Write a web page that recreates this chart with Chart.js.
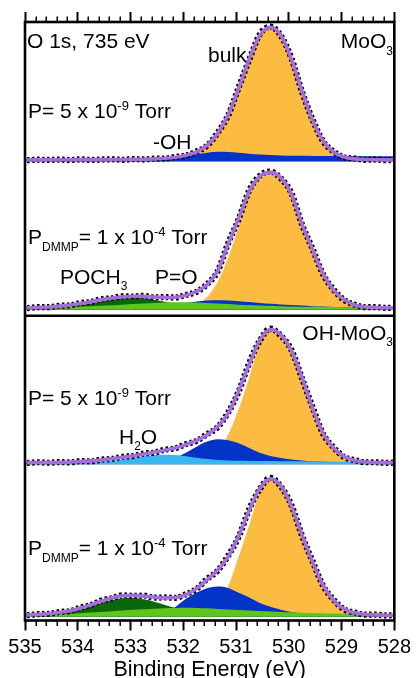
<!DOCTYPE html>
<html>
<head>
<meta charset="utf-8">
<script src="https://cdn.jsdelivr.net/npm/chart.js@4.4.1/dist/chart.umd.min.js"></script>
<style>
html,body{margin:0;padding:0;background:#fff;}
#wrap{width:416px;height:678px;position:relative;}
canvas{display:block;}
</style>
</head>
<body>
<div id="wrap"><canvas id="c" width="416" height="678"></canvas></div>
<script>
// ---------- DATA ----------
// Binding energies (eV) of the sampled points
const energies = [535.15, 534.95, 534.75, 534.55, 534.35, 534.15, 533.95, 533.75, 533.55, 533.35,
                  533.15, 532.95, 532.75, 532.55, 532.35, 532.15, 531.95, 531.75, 531.55, 531.35,
                  531.15, 530.95, 530.75, 530.55, 530.35, 530.15, 529.95, 529.75, 529.55, 529.35,
                  529.15, 528.95, 528.75, 528.55, 528.35, 528.15, 527.95];

const majorTicks = [535, 534, 533, 532, 531, 530, 529, 528];
const tickLabels = ['535', '534', '533', '532', '531', '530', '529', '528'];

// Panel 1: MoO3, P = 5e-9 Torr
const p1Envelope = [0, 0, 0, 0.001, 0.001, 0.001, 0.002, 0.002, 0.002, 0.003,
                    0.003, 0.004, 0.005, 0.008, 0.012, 0.02, 0.035, 0.06, 0.11, 0.2,
                    0.34, 0.54, 0.76, 0.94, 1.0, 0.94, 0.76, 0.52, 0.3, 0.145,
                    0.06, 0.022, 0.008, 0.003, 0.001, 0, 0];
const p1Data = [0.003, -0.002, 0.002, 0, 0.003, -0.001, 0.004, 0, 0.003, 0.005,
                0.001, 0.006, 0.004, 0.01, 0.011, 0.023, 0.033, 0.064, 0.107, 0.205,
                0.335, 0.547, 0.755, 0.947, 1.005, 0.936, 0.766, 0.515, 0.305, 0.141,
                0.063, 0.019, 0.011, 0.001, 0.003, -0.002, 0.002];
const p1Bulk = [0, 0, 0, 0, 0, 0, 0, 0, 0, 0,
                0, 0, 0, 0, 0.004, 0.01, 0.025, 0.05, 0.1, 0.19,
                0.33, 0.53, 0.75, 0.93, 0.99, 0.93, 0.75, 0.51, 0.29, 0.135,
                0.055, 0.02, 0.006, 0, 0, 0, 0];
const p1OH = [0, 0, 0, 0, 0, 0, 0, 0, 0, 0,
              0, 0, 0, 0, 0.004, 0.012, 0.026, 0.042, 0.055, 0.062,
              0.06, 0.054, 0.047, 0.041, 0.037, 0.034, 0.032, 0.031, 0.03, 0.03,
              0.029, 0.029, 0.028, 0.028, 0.028, 0.027, 0.027];

// Panel 2: MoO3, P_DMMP = 1e-4 Torr
const p2Envelope = [0, 0, 0.002, 0.006, 0.012, 0.02, 0.032, 0.045, 0.06, 0.072,
                    0.081, 0.085, 0.084, 0.079, 0.076, 0.078, 0.092, 0.12, 0.17, 0.27,
                    0.47, 0.66, 0.86, 0.97, 1.0, 0.96, 0.84, 0.62, 0.43, 0.25,
                    0.13, 0.06, 0.02, 0.006, 0.002, 0, 0];
const p2Data = [0.002, -0.002, 0.004, 0.004, 0.015, 0.018, 0.035, 0.043, 0.064, 0.07,
                0.085, 0.083, 0.088, 0.077, 0.079, 0.076, 0.095, 0.117, 0.174, 0.268,
                0.476, 0.655, 0.867, 0.975, 1.006, 0.955, 0.846, 0.615, 0.436, 0.246,
                0.134, 0.057, 0.023, 0.004, 0.004, -0.001, 0.002];
const p2Bulk = [0, 0, 0, 0, 0, 0, 0, 0, 0, 0,
                0, 0, 0, 0, 0, 0, 0.005, 0.025, 0.08, 0.19,
                0.37, 0.6, 0.85, 0.95, 0.985, 0.95, 0.83, 0.61, 0.42, 0.24,
                0.12, 0.052, 0.016, 0.004, 0, 0, 0];
const p2OH = [0, 0, 0, 0, 0, 0, 0, 0, 0, 0,
              0, 0, 0, 0, 0, 0.02, 0.035, 0.046, 0.053, 0.055,
              0.053, 0.048, 0.042, 0.036, 0.03, 0.025, 0.02, 0.016, 0.012, 0.009,
              0.006, 0.004, 0.002, 0, 0, 0, 0];
const p2POCH3 = [0, 0, 0, 0, 0.004, 0.01, 0.02, 0.032, 0.047, 0.06,
                 0.069, 0.073, 0.07, 0.06, 0.045, 0.03, 0.017, 0.008, 0.003, 0,
                 0, 0, 0, 0, 0, 0, 0, 0, 0, 0,
                 0, 0, 0, 0, 0, 0, 0];
const p2PO = [0, 0, 0, 0.002, 0.004, 0.006, 0.009, 0.012, 0.015, 0.019,
              0.023, 0.027, 0.031, 0.035, 0.038, 0.04, 0.04, 0.038, 0.035, 0.031,
              0.027, 0.023, 0.02, 0.017, 0.014, 0.012, 0.01, 0.008, 0.007, 0.006,
              0.005, 0.004, 0.003, 0.002, 0.001, 0, 0];

// Panel 3: OH-MoO3, P = 5e-9 Torr
const p3Envelope = [0, 0, 0.001, 0.001, 0.002, 0.004, 0.008, 0.013, 0.02, 0.03,
                    0.04, 0.052, 0.065, 0.078, 0.093, 0.11, 0.135, 0.165, 0.21, 0.27,
                    0.37, 0.54, 0.74, 0.92, 1.0, 0.96, 0.84, 0.64, 0.41, 0.22,
                    0.11, 0.045, 0.016, 0.005, 0.001, 0, 0];
const p3Data = [0.002, -0.002, 0.003, -0.001, 0.004, 0.002, 0.011, 0.01, 0.023, 0.028,
                0.044, 0.05, 0.069, 0.075, 0.097, 0.108, 0.139, 0.162, 0.214, 0.266,
                0.376, 0.535, 0.748, 0.915, 1.007, 0.953, 0.846, 0.633, 0.418, 0.216,
                0.114, 0.042, 0.019, 0.003, 0.003, -0.002, 0.001];
const p3Bulk = [0, 0, 0, 0, 0, 0, 0, 0, 0, 0,
                0, 0, 0, 0, 0, 0, 0, 0.008, 0.03, 0.09,
                0.21, 0.4, 0.64, 0.9, 0.99, 0.95, 0.83, 0.63, 0.4, 0.21,
                0.1, 0.037, 0.012, 0.004, 0, 0, 0];
const p3OH = [0, 0, 0, 0, 0, 0, 0, 0, 0, 0,
              0, 0, 0, 0, 0.015, 0.04, 0.075, 0.12, 0.158, 0.175,
              0.168, 0.145, 0.11, 0.075, 0.05, 0.035, 0.024, 0.016, 0.01, 0.006,
              0.003, 0, 0, 0, 0, 0, 0];
const p3H2O = [0, 0, 0, 0, 0, 0, 0, 0, 0.005, 0.013,
               0.024, 0.036, 0.048, 0.057, 0.06, 0.057, 0.048, 0.037, 0.027, 0.02,
               0.016, 0.014, 0.013, 0.012, 0.012, 0.011, 0.011, 0.01, 0.01, 0.009,
               0.008, 0.006, 0.004, 0.002, 0, 0, 0];

// Panel 4: OH-MoO3, P_DMMP = 1e-4 Torr
const p4Envelope = [0, 0.002, 0.006, 0.012, 0.02, 0.032, 0.052, 0.077, 0.104, 0.128,
                    0.142, 0.145, 0.14, 0.132, 0.127, 0.13, 0.15, 0.195, 0.26, 0.33,
                    0.43, 0.58, 0.77, 0.93, 1.0, 0.95, 0.8, 0.59, 0.39, 0.22,
                    0.11, 0.045, 0.017, 0.006, 0.002, 0, 0];
const p4Data = [0.002, 0, 0.008, 0.01, 0.023, 0.03, 0.055, 0.074, 0.108, 0.125,
                0.146, 0.142, 0.143, 0.129, 0.13, 0.127, 0.154, 0.192, 0.265, 0.326,
                0.436, 0.575, 0.778, 0.924, 1.008, 0.944, 0.807, 0.584, 0.396, 0.216,
                0.114, 0.042, 0.02, 0.004, 0.004, -0.002, 0.002];
const p4Bulk = [0, 0, 0, 0, 0, 0, 0, 0, 0, 0,
                0, 0, 0, 0, 0, 0, 0, 0.004, 0.02, 0.075,
                0.21, 0.43, 0.66, 0.9, 0.99, 0.94, 0.79, 0.58, 0.38, 0.21,
                0.1, 0.038, 0.013, 0.004, 0, 0, 0];
const p4OH = [0, 0, 0, 0, 0, 0, 0, 0, 0, 0,
              0, 0, 0, 0, 0.015, 0.06, 0.12, 0.165, 0.197, 0.21,
              0.2, 0.165, 0.13, 0.09, 0.062, 0.04, 0.024, 0.014, 0.008, 0.004,
              0.002, 0, 0, 0, 0, 0, 0];
const p4POCH3 = [0, 0, 0.001, 0.004, 0.01, 0.022, 0.04, 0.063, 0.09, 0.112,
                 0.125, 0.126, 0.116, 0.098, 0.075, 0.052, 0.032, 0.018, 0.009, 0.004,
                 0, 0, 0, 0, 0, 0, 0, 0, 0, 0,
                 0, 0, 0, 0, 0, 0, 0];
const p4PO = [0, 0.001, 0.003, 0.005, 0.008, 0.011, 0.015, 0.019, 0.024, 0.029,
              0.034, 0.039, 0.044, 0.048, 0.051, 0.053, 0.054, 0.053, 0.05, 0.046,
              0.042, 0.038, 0.034, 0.03, 0.027, 0.024, 0.021, 0.018, 0.016, 0.014,
              0.012, 0.011, 0.01, 0.009, 0.008, 0.008, 0.008];

// ---------- STYLE ----------
const FONT = '"Liberation Sans", Arial, Helvetica, sans-serif';
const COL = {
  bulk: '#FCBB41', oh: '#0334C8', h2o: '#38B6F2',
  poch3: '#0B670B', po: '#5FC41C', env: '#A46DDB', data: '#000000'
};
const FLOOR = -0.012;

Chart.defaults.font.family = FONT;
Chart.defaults.color = '#000';

function pts(vals) { return energies.map((e, i) => ({ x: e, y: vals[i] })); }
function comp(label, vals, axis, color, order) {
  return { label, data: pts(vals), yAxisID: axis, order,
    borderWidth: 0, borderColor: color, backgroundColor: color,
    fill: { value: FLOOR }, pointRadius: 0, cubicInterpolationMode: 'monotone' };
}
function dataLine(label, vals, axis) {
  return { label, data: pts(vals), yAxisID: axis, order: 1,
    borderWidth: 6.2, borderColor: COL.data, borderDash: [2.5, 2.5], fill: false,
    pointRadius: 0, cubicInterpolationMode: 'monotone' };
}
function envLine(label, vals, axis) {
  return { label, data: pts(vals), yAxisID: axis, order: 0,
    borderWidth: 3.6, borderColor: COL.env, fill: false,
    pointRadius: 0, cubicInterpolationMode: 'monotone' };
}

const datasets = [
  comp('bulk', p1Bulk, 'y1', COL.bulk, 5),
  comp('-OH', p1OH, 'y1', COL.oh, 3),
  dataLine('data', p1Data, 'y1'),
  envLine('envelope', p1Envelope, 'y1'),

  comp('bulk', p2Bulk, 'y2', COL.bulk, 5),
  comp('POCH3', p2POCH3, 'y2', COL.poch3, 4),
  comp('-OH', p2OH, 'y2', COL.oh, 3),
  comp('P=O', p2PO, 'y2', COL.po, 2),
  dataLine('data', p2Data, 'y2'),
  envLine('envelope', p2Envelope, 'y2'),

  comp('bulk', p3Bulk, 'y3', COL.bulk, 5),
  comp('-OH', p3OH, 'y3', COL.oh, 3),
  comp('H2O', p3H2O, 'y3', COL.h2o, 2),
  dataLine('data', p3Data, 'y3'),
  envLine('envelope', p3Envelope, 'y3'),

  comp('bulk', p4Bulk, 'y4', COL.bulk, 5),
  comp('POCH3', p4POCH3, 'y4', COL.poch3, 4),
  comp('-OH', p4OH, 'y4', COL.oh, 3),
  comp('P=O', p4PO, 'y4', COL.po, 2),
  dataLine('data', p4Data, 'y4'),
  envLine('envelope', p4Envelope, 'y4')
];

function yAxis(min, max, stackWeight, weight) {
  return { type: 'linear', display: false, position: 'left', stack: 'panels',
           stackWeight, weight, min, max };
}
function setMajor(scale) { scale.ticks = majorTicks.map(v => ({ value: v })); }

// Text annotations: [text, fontSize, baselineShift]
const annotations = [
  { x: 27, y: 48, parts: [['O 1s, 735 eV', 21, 0]] },
  { x: 393, y: 48, align: 'right', parts: [['MoO', 21, 0], ['3', 12, 7]] },
  { x: 208, y: 62, parts: [['bulk', 21, 0]] },
  { x: 28, y: 117.5, parts: [['P= 5 x 10', 21, 0], ['-9', 13, -8], [' Torr', 21, 0]] },
  { x: 153, y: 148.5, parts: [['-OH', 21, 0]] },
  { x: 28, y: 243.5, parts: [['P', 21, 0], ['DMMP', 12, 7], ['= 1 x 10', 21, 0], ['-4', 13, -8], [' Torr', 21, 0]] },
  { x: 60, y: 284, parts: [['POCH', 21, 0], ['3', 12, 6]] },
  { x: 155, y: 284, parts: [['P=O', 21, 0]] },
  { x: 393, y: 340, align: 'right', parts: [['OH-MoO', 21, 0], ['3', 12, 6]] },
  { x: 28, y: 405, parts: [['P= 5 x 10', 21, 0], ['-9', 13, -8], [' Torr', 21, 0]] },
  { x: 119, y: 443.5, parts: [['H', 21, 0], ['2', 12, 6], ['O', 21, 0]] },
  { x: 28, y: 555, parts: [['P', 21, 0], ['DMMP', 12, 7], ['= 1 x 10', 21, 0], ['-4', 13, -8], [' Torr', 21, 0]] }
];

function drawRich(ctx, a) {
  let w = 0;
  a.parts.forEach(p => { ctx.font = p[1] + 'px ' + FONT; w += ctx.measureText(p[0]).width; });
  let cx = a.align === 'right' ? a.x - w : a.x;
  a.parts.forEach(p => {
    ctx.font = p[1] + 'px ' + FONT;
    ctx.fillText(p[0], cx, a.y + p[2]);
    cx += ctx.measureText(p[0]).width;
  });
}

const decor = {
  id: 'decor',
  afterDraw(chart) {
    const ctx = chart.ctx;
    const ca = chart.chartArea;
    const xs = chart.scales.x;
    ctx.save();
    ctx.strokeStyle = '#000';
    // minor ticks every 0.2 eV
    ctx.lineWidth = 1.5;
    ctx.beginPath();
    for (let i = 1; i < 35; i++) {
      if (i % 5 === 0) continue;
      const v = 528 + i * 0.2;
      const px = Math.round(xs.getPixelForValue(v)) + 0.25;
      ctx.moveTo(px, ca.bottom); ctx.lineTo(px, ca.bottom + 5.5);
      ctx.moveTo(px, ca.top); ctx.lineTo(px, ca.top - 5.5);
    }
    ctx.stroke();
    // frame and divider
    ctx.lineWidth = 2.6;
    ctx.strokeRect(ca.left, ca.top, ca.right - ca.left, ca.bottom - ca.top);
    const yDiv = chart.scales.y2.bottom;
    ctx.beginPath();
    ctx.moveTo(ca.left, yDiv); ctx.lineTo(ca.right, yDiv);
    ctx.stroke();
    // text
    ctx.fillStyle = '#000';
    ctx.textBaseline = 'alphabetic';
    ctx.textAlign = 'left';
    annotations.forEach(a => drawRich(ctx, a));
    ctx.restore();
  }
};

new Chart(document.getElementById('c'), {
  type: 'line',
  data: { datasets },
  options: {
    responsive: false,
    devicePixelRatio: 1,
    animation: false,
    events: [],
    layout: { padding: { left: 25, right: 20.5, top: 0, bottom: 0 } },
    plugins: { legend: { display: false }, tooltip: { enabled: false } },
    scales: {
      x: {
        type: 'linear', position: 'bottom', min: 528, max: 535, reverse: true,
        afterBuildTicks: setMajor,
        afterFit: s => { s.height = 57.5; },
        ticks: { callback: v => tickLabels[majorTicks.indexOf(v)], font: { size: 20 }, color: '#000',
                 padding: 5, maxRotation: 0, autoSkip: false },
        grid: { drawOnChartArea: false, drawTicks: true, tickLength: 10, tickWidth: 2, tickColor: '#000' },
        border: { display: false },
        title: { display: true, text: 'Binding Energy (eV)', color: '#000',
                 font: { size: 21.5, lineHeight: 1 }, padding: { top: 0, bottom: -3 } }
      },
      xTop: {
        type: 'linear', position: 'top', min: 528, max: 535, reverse: true,
        afterBuildTicks: setMajor,
        afterFit: s => { s.height = 22; },
        ticks: { display: false },
        grid: { drawOnChartArea: false, drawTicks: true, tickLength: 10, tickWidth: 2, tickColor: '#000' },
        border: { display: false }
      },
      y1: yAxis(-0.06, 1.04, 146, 4),
      y2: yAxis(-0.059, 1.033, 148, 3),
      y3: yAxis(-0.0525, 1.103, 154, 2),
      y4: yAxis(-0.039, 1.068, 151, 1)
    }
  },
  plugins: [decor]
});
</script>
</body>
</html>
